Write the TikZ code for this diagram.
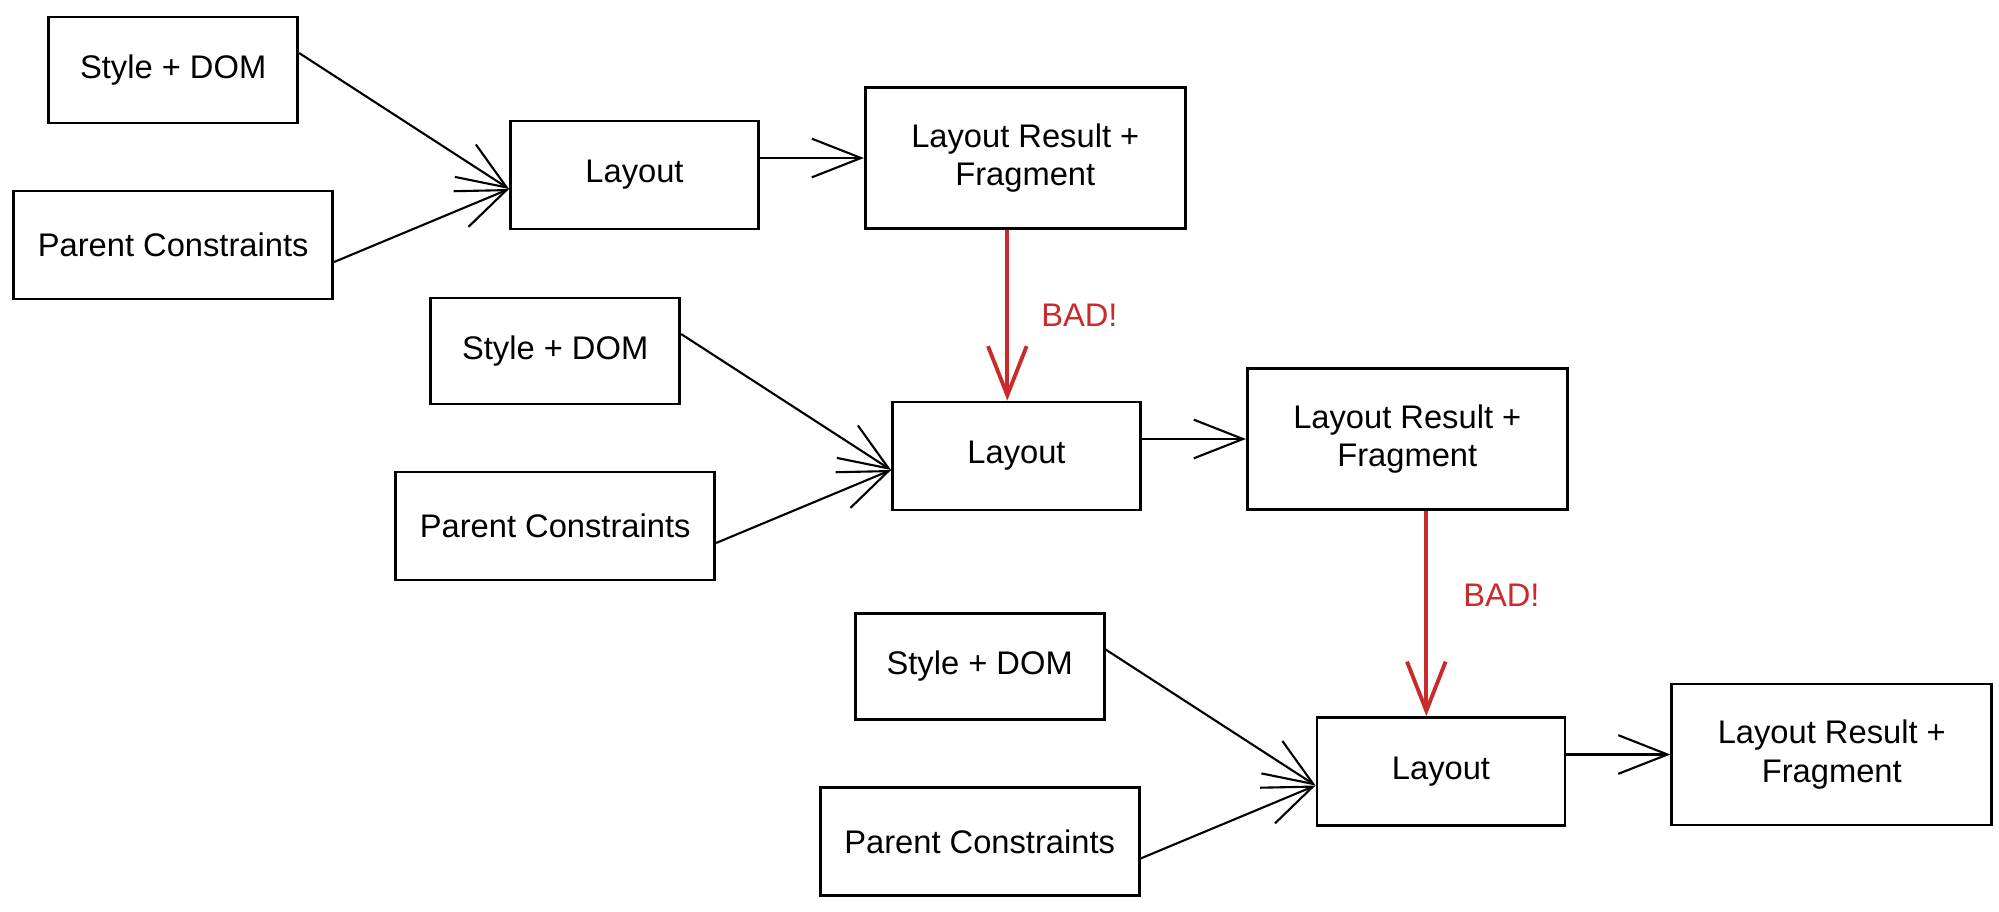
\documentclass[tikz,border=0pt]{standalone}
\usepackage{fontspec}
\setmainfont{Liberation Sans}
\usetikzlibrary{positioning,arrows.meta}
\definecolor{badred}{HTML}{C92A2A}
\tikzset{
  box/.style={draw, line width=0.8pt, align=center, inner sep=0pt,
    font=\fontsize{9.3}{11}\selectfont},
  sdbox/.style={box, minimum width=2.49cm, minimum height=1.06cm},
  pcbox/.style={box, minimum width=3.19cm, minimum height=1.08cm},
  laybox/.style={box, minimum width=2.48cm, minimum height=1.08cm},
  resbox/.style={box, minimum width=3.20cm, minimum height=1.41cm},
  flow/.style={-{Straight Barb[length=14pt,width=11pt]}, line width=0.6pt},
  bad/.style={flow, draw=badred, line width=1.1pt},
  badlabel/.style={text=badred, inner sep=0pt, font=\fontsize{9.3}{11}\selectfont}
}
\begin{document}
\begin{tikzpicture}
   \useasboundingbox (0,0) rectangle (19.99,-9.12);

   % first pass
   \node[laybox] (lay1) at (6.345,-1.75) {Layout};
   \node[sdbox, left=2.1cm of lay1, yshift=1.05cm] (sd1) {Style + DOM};
   \node[pcbox, left=1.75cm of lay1, yshift=-0.7cm] (pc1) {Parent Constraints};
   \node[resbox, right=1.04cm of lay1, yshift=0.17cm] (res1) {Layout Result +\\Fragment};
   \draw[flow] ([yshift=0.17cm]sd1.east) -- ([yshift=-0.14cm]lay1.west);
   \draw[flow] ([yshift=-0.17cm]pc1.east) -- ([yshift=-0.14cm]lay1.west);
   \draw[flow] (res1.west -| lay1.east) -- (res1.west);

   % second pass
   \node[laybox] (lay2) at (10.165,-4.56) {Layout};
   \node[sdbox, left=2.1cm of lay2, yshift=1.05cm] (sd2) {Style + DOM};
   \node[pcbox, left=1.75cm of lay2, yshift=-0.7cm] (pc2) {Parent Constraints};
   \node[resbox, right=1.04cm of lay2, yshift=0.17cm] (res2) {Layout Result +\\Fragment};
   \draw[flow] ([yshift=0.17cm]sd2.east) -- ([yshift=-0.14cm]lay2.west);
   \draw[flow] ([yshift=-0.17cm]pc2.east) -- ([yshift=-0.14cm]lay2.west);
   \draw[flow] (res2.west -| lay2.east) -- (res2.west);

   % third pass
   \node[laybox] (lay3) at (14.41,-7.715) {Layout};
   \node[sdbox, left=2.1cm of lay3, yshift=1.05cm] (sd3) {Style + DOM};
   \node[pcbox, left=1.75cm of lay3, yshift=-0.7cm] (pc3) {Parent Constraints};
   \node[resbox, right=1.04cm of lay3, yshift=0.17cm] (res3) {Layout Result +\\Fragment};
   \draw[flow] ([yshift=0.17cm]sd3.east) -- ([yshift=-0.14cm]lay3.west);
   \draw[flow] ([yshift=-0.17cm]pc3.east) -- ([yshift=-0.14cm]lay3.west);
   \draw[flow] (res3.west -| lay3.east) -- (res3.west);

   % results fed back into the next layout
   \draw[bad] ([xshift=-0.18cm]res1.south) -- ([xshift=-0.18cm]res1.south |- lay2.north)
      node[midway, right=0.32cm, badlabel] {BAD!};
   \draw[bad] ([xshift=0.19cm]res2.south) -- ([xshift=0.19cm]res2.south |- lay3.north)
      node[pos=0.41, right=0.35cm, badlabel] {BAD!};
\end{tikzpicture}
\end{document}
